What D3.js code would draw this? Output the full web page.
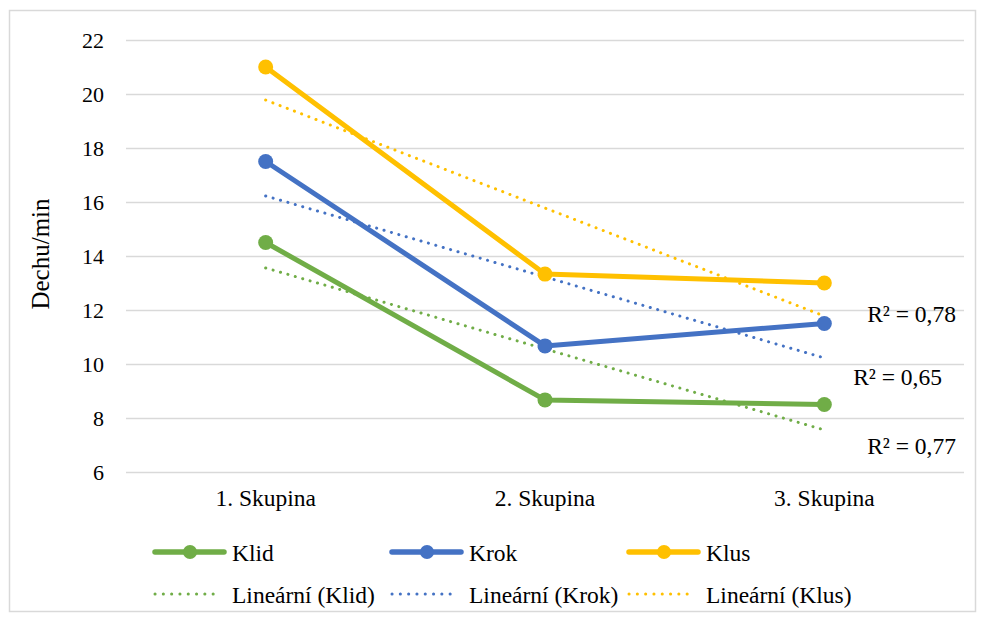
<!DOCTYPE html>
<html>
<head>
<meta charset="utf-8">
<script src="https://cdn.jsdelivr.net/npm/d3@7"></script>
<style>
  body { margin: 0; background: #fff; }
</style>
</head>
<body>
<div id="chart"></div>
<script>
// categories and series values
const categories = ["1. Skupina", "2. Skupina", "3. Skupina"];
const klid = [14.5, 8.67, 8.5];
const krok = [17.5, 10.67, 11.5];
const klus = [21, 13.33, 13];
const seriesNames = ["Klid", "Krok", "Klus"];
const rSquared = ["0,77", "0,65", "0,78"];
const yTicks = [6, 8, 10, 12, 14, 16, 18, 20, 22];

const COLORS = ["#70AD47", "#4472C4", "#FFC000"];
const FONT = "'Liberation Serif', 'Times New Roman', serif";

const W = 982, H = 620;
const margin = { top: 40, right: 18, bottom: 148, left: 126 };
const iW = W - margin.left - margin.right;
const iH = H - margin.top - margin.bottom;

const svg = d3.select("#chart").append("svg")
  .attr("width", W).attr("height", H)
  .attr("font-family", FONT)
  .style("font-family", FONT)
  .style("display", "block");

// outer chart border
svg.append("rect")
  .attr("x", 9.5).attr("y", 10.5).attr("width", 966).attr("height", 601)
  .attr("fill", "#fff").attr("stroke", "#d9d9d9").attr("stroke-width", 1.5);

const g = svg.append("g").attr("transform", `translate(${margin.left},${margin.top})`);

const x = d3.scaleBand().domain(categories).range([0, iW]);
const y = d3.scaleLinear().domain([6, 22]).range([iH, 0]);
const cx = c => x(c) + x.bandwidth() / 2;

// gridlines
g.append("g")
  .call(d3.axisLeft(y).tickValues(yTicks).tickSize(-iW).tickFormat(""))
  .call(a => a.select(".domain").remove())
  .call(a => a.selectAll(".tick line").attr("stroke", "#d9d9d9").attr("stroke-width", 1.5));

// y tick labels
g.append("g")
  .call(d3.axisLeft(y).tickValues(yTicks).tickSize(0).tickPadding(22))
  .attr("font-family", FONT)
  .call(a => a.select(".domain").remove())
  .call(a => a.selectAll("text").attr("fill", "#000").attr("font-size", 22)
    .style("font-family", FONT));

// x labels
g.append("g")
  .attr("transform", `translate(0,${iH})`)
  .call(d3.axisBottom(x).tickSize(0).tickPadding(17))
  .attr("font-family", FONT)
  .call(a => a.select(".domain").remove())
  .call(a => a.selectAll("text").attr("fill", "#000").attr("font-size", 23.5)
    .style("font-family", FONT));

// axis title
svg.append("text")
  .attr("transform", `translate(49,${margin.top + iH / 2 - 2}) rotate(-90)`)
  .attr("text-anchor", "middle")
  .attr("font-size", 25)
  .style("font-family", FONT)
  .text("Dechu/min");

const series = [klid, krok, klus];

// least squares fit, same as the spreadsheet trendline
function linFit(vals) {
  const xs = vals.map((v, i) => i + 1);
  const mx = d3.mean(xs), my = d3.mean(vals);
  const b = d3.sum(xs, (xi, i) => (xi - mx) * (vals[i] - my)) / d3.sum(xs, xi => (xi - mx) ** 2);
  return xs.map(xi => my + b * (xi - mx));
}

const line = d3.line().x((d, i) => cx(categories[i])).y(d => y(d));

// trendlines drawn under the data lines
series.forEach((s, k) => {
  g.append("path")
    .attr("d", line(linFit(s)))
    .attr("fill", "none")
    .attr("stroke", COLORS[k])
    .attr("stroke-width", 3)
    .attr("stroke-linecap", "round")
    .attr("stroke-dasharray", "0.1,7.6");
});

series.forEach((s, k) => {
  g.append("path")
    .attr("d", line(s))
    .attr("fill", "none")
    .attr("stroke", COLORS[k])
    .attr("stroke-width", 5)
    .attr("stroke-linejoin", "round");
  g.selectAll(null).data(s).join("circle")
    .attr("cx", (d, i) => cx(categories[i]))
    .attr("cy", d => y(d))
    .attr("r", 7.5)
    .attr("fill", COLORS[k]);
});

// R² labels, placed near the end of each trendline
const r2Pos = [[956, 454], [942, 385], [956, 322]];
rSquared.forEach((r, k) => {
  svg.append("text")
    .attr("x", r2Pos[k][0]).attr("y", r2Pos[k][1])
    .attr("text-anchor", "end")
    .attr("font-size", 23.5)
    .style("font-family", FONT)
    .text(`R² = ${r}`);
});

// legend
const legX = [153, 390, 627];
seriesNames.forEach((name, k) => {
  const lg = svg.append("g").attr("transform", `translate(${legX[k]},552)`);
  lg.append("line").attr("x1", 2).attr("x2", 71)
    .attr("stroke", COLORS[k]).attr("stroke-width", 5.5).attr("stroke-linecap", "round");
  lg.append("circle").attr("cx", 37).attr("r", 7).attr("fill", COLORS[k]);
  lg.append("text").attr("x", 79).attr("y", 9).attr("font-size", 23.5)
    .style("font-family", FONT).text(name);

  const lt = svg.append("g").attr("transform", `translate(${legX[k]},594)`);
  lt.append("line").attr("x1", 2).attr("x2", 68)
    .attr("stroke", COLORS[k]).attr("stroke-width", 3).attr("stroke-linecap", "round")
    .attr("stroke-dasharray", "0.1,8.2");
  lt.append("text").attr("x", 79).attr("y", 9).attr("font-size", 23.5)
    .style("font-family", FONT).text(`Lineární (${name})`);
});
</script>
</body>
</html>
